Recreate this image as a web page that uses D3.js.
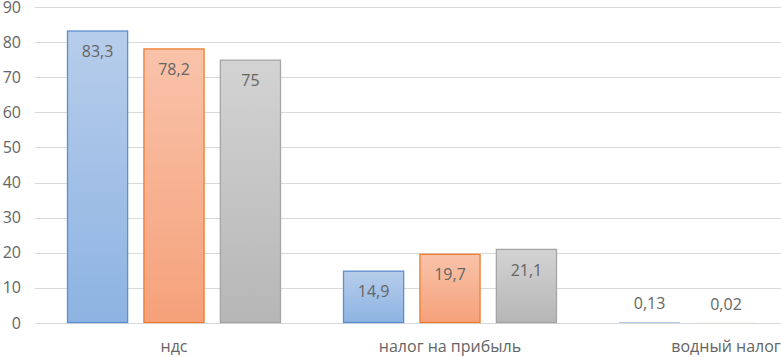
<!DOCTYPE html>
<html>
<head>
<meta charset="utf-8">
<script src="https://cdn.jsdelivr.net/npm/d3@7"></script>
<style>
  body { margin: 0; background: #fff; }
  svg text { font-family: "Open Sans", "Noto Sans", sans-serif; fill: #656565; }
</style>
</head>
<body>
<svg width="781" height="357"></svg>
<script>
// categories and series
var categories = ["ндс", "налог на прибыль", "водный налог"];
var series = ["s1", "s2", "s3"];
var values = {
  s1: [83.3, 14.9, 0.13],
  s2: [78.2, 19.7, 0.02],
  s3: [75, 21.1, null]
};
var labels = {
  s1: ["83,3", "14,9", "0,13"],
  s2: ["78,2", "19,7", "0,02"],
  s3: ["75", "21,1", ""]
};
var yTicks = [0, 10, 20, 30, 40, 50, 60, 70, 80, 90];

var colors = {
  s1: { top: "#b7cdeb", bottom: "#8db3e2", stroke: "#5b8fd0" },
  s2: { top: "#f9c3aa", bottom: "#f5a17a", stroke: "#ed7d31" },
  s3: { top: "#d3d3d3", bottom: "#b6b6b6", stroke: "#a5a5a5" }
};

var svg = d3.select("svg");

// the chart is cropped on the right, so the category band runs past the svg
var x = d3.scaleBand()
  .domain(categories)
  .range([36, 864]);

var xs = d3.scaleBand()
  .domain(series)
  .range([31, 245])
  .paddingInner(0.2);

var y = d3.scaleLinear()
  .domain([0, 90])
  .range([323, 7]);

// gradients
var defs = svg.append("defs");
series.forEach(function(s) {
  var gr = defs.append("linearGradient")
    .attr("id", "grad-" + s)
    .attr("x1", 0).attr("y1", 0).attr("x2", 0).attr("y2", 1);
  gr.append("stop").attr("offset", "0%").attr("stop-color", colors[s].top);
  gr.append("stop").attr("offset", "100%").attr("stop-color", colors[s].bottom);
});

// grid
svg.append("g")
  .selectAll("line")
  .data(yTicks)
  .enter().append("line")
  .attr("x1", 35)
  .attr("x2", 781)
  .attr("y1", function(d) { return Math.round(y(d)) + 0.5; })
  .attr("y2", function(d) { return Math.round(y(d)) + 0.5; })
  .attr("stroke", "#d9d9d9")
  .attr("stroke-width", 1);

// y labels
svg.append("g")
  .selectAll("text")
  .data(yTicks)
  .enter().append("text")
  .attr("x", 21)
  .attr("y", function(d) { return y(d); })
  .attr("dy", "0.35em")
  .attr("text-anchor", "end")
  .attr("font-size", 16)
  .text(function(d) { return d; });

// bars
var groups = svg.append("g")
  .selectAll("g")
  .data(categories)
  .enter().append("g")
  .attr("transform", function(d) { return "translate(" + x(d) + ",0)"; });

groups.each(function(cat, ci) {
  var g = d3.select(this);
  series.forEach(function(s) {
    var v = values[s][ci];
    if (v == null) return;
    var h = y(0) - y(v);
    if (h > 2) {
      g.append("rect")
        .attr("x", xs(s) + 0.5)
        .attr("y", y(v) + 0.5)
        .attr("width", xs.bandwidth() - 1)
        .attr("height", h - 1)
        .attr("fill", "url(#grad-" + s + ")")
        .attr("stroke", colors[s].stroke)
        .attr("stroke-width", 1.3);
    } else {
      // tiny value: just a hairline of the series colour
      g.append("rect")
        .attr("x", xs(s))
        .attr("y", y(v))
        .attr("width", xs.bandwidth())
        .attr("height", h)
        .attr("fill", colors[s].stroke);
    }

    var inside = h > 25;
    g.append("text")
      .attr("x", xs(s) + xs.bandwidth() / 2)
      .attr("y", inside ? y(v) + 21 : y(v) - 19)
      .attr("dy", "0.35em")
      .attr("text-anchor", "middle")
      .attr("font-size", 16)
      .text(labels[s][ci]);
  });
});

// category labels
svg.append("g")
  .selectAll("text")
  .data(categories)
  .enter().append("text")
  .attr("x", function(d) { return x(d) + x.bandwidth() / 2; })
  .attr("y", 346)
  .attr("dy", "0.35em")
  .attr("text-anchor", "middle")
  .attr("font-size", 16)
  .text(function(d) { return d; });
</script>
</body>
</html>
